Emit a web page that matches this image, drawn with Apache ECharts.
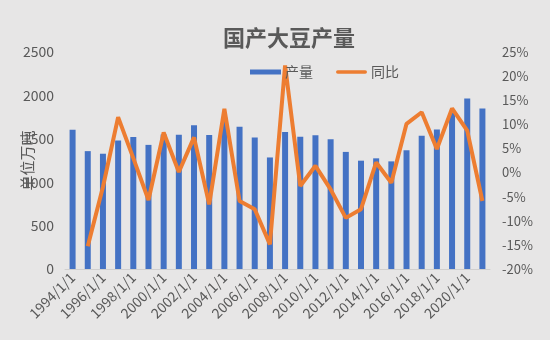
<!DOCTYPE html>
<html><head><meta charset="utf-8">
<script src="https://cdn.jsdelivr.net/npm/echarts@6/dist/echarts.min.js"></script>
<style>html,body{margin:0;padding:0;background:#e7e6e6;}#c{width:550px;height:340px;}</style>
</head><body><div id="c"></div>
<script>
const categories = ['1994/1/1','1995/1/1','1996/1/1','1997/1/1','1998/1/1','1999/1/1','2000/1/1','2001/1/1','2002/1/1','2003/1/1','2004/1/1','2005/1/1','2006/1/1','2007/1/1','2008/1/1','2009/1/1','2010/1/1','2011/1/1','2012/1/1','2013/1/1','2014/1/1','2015/1/1','2016/1/1','2017/1/1','2018/1/1','2019/1/1','2020/1/1','2021/1/1'];
const production = [1605,1358,1328,1480,1520,1430,1550,1547,1655,1543,1745,1640,1515,1285,1578,1525,1540,1496,1349,1248,1275,1240,1368,1535,1606,1800,1963,1848];
const yoy = [null,-15.3,-3.0,11.5,3.0,-5.7,8.3,0.1,7.3,-6.6,13.2,-5.9,-7.6,-14.9,22.2,-2.8,1.4,-3.5,-9.4,-7.6,2.1,-2.1,10.1,12.5,4.9,13.3,8.7,-5.9];
const leftTicks = {min:0,max:2500,interval:500};
const rightTicks = {min:-20,max:25,interval:5};

const FONT = '"Noto Sans CJK SC", "Noto Sans", sans-serif';
const GRAY = '#595959';
const chart = echarts.init(document.getElementById('c'));
chart.setOption({
  backgroundColor:'#e7e6e6',
  textStyle:{fontFamily:FONT},
  title:{text:'国产大豆产量',left:218,top:22,textStyle:{fontSize:22,fontWeight:'bold',color:GRAY,fontFamily:FONT}},
  legend:{left:245,top:60,itemWidth:31,itemHeight:5,itemGap:23,
    textStyle:{fontSize:14,color:GRAY,fontFamily:FONT,padding:[0,0,0,-1]},
    data:[{name:'产量',icon:'rect'},{name:'同比',icon:'path://M2,0 H33 A2,2 0 0 1 33,4 H2 A2,2 0 0 1 2,0 Z'}]},
  grid:{left:65,right:60,top:52,bottom:71,containLabel:false,outerBoundsMode:'none'},
  xAxis:{type:'category',data:categories,
    axisLine:{lineStyle:{color:'#d0cfcf'}},axisTick:{show:false},
    axisLabel:{rotate:45,interval:1,fontSize:14,color:GRAY,margin:6,fontFamily:FONT}},
  yAxis:[
    {type:'value',min:leftTicks.min,max:leftTicks.max,interval:leftTicks.interval,
     name:'单位万吨',nameLocation:'middle',nameRotate:90,nameGap:30,nameMoveOverlap:false,
     nameTextStyle:{fontSize:15,color:GRAY,fontFamily:FONT},
     axisLine:{show:false},axisTick:{show:false},splitLine:{show:false},
     axisLabel:{fontSize:14,color:GRAY,margin:11,fontFamily:FONT,formatter:v=>String(v)}},
    {type:'value',min:rightTicks.min,max:rightTicks.max,interval:rightTicks.interval,
     axisLine:{show:false},axisTick:{show:false},splitLine:{show:false},
     axisLabel:{fontSize:13,color:GRAY,margin:12,fontFamily:FONT,formatter:v=>v+'%'}}
  ],
  series:[
    {name:'产量',type:'bar',data:production,barWidth:6,itemStyle:{color:'#4472c4'}},
    {name:'同比',type:'line',yAxisIndex:1,data:yoy,showSymbol:false,symbol:'none',
     lineStyle:{color:'#ed7d31',width:4},itemStyle:{color:'#ed7d31'}}
  ]
});
</script></body></html>
